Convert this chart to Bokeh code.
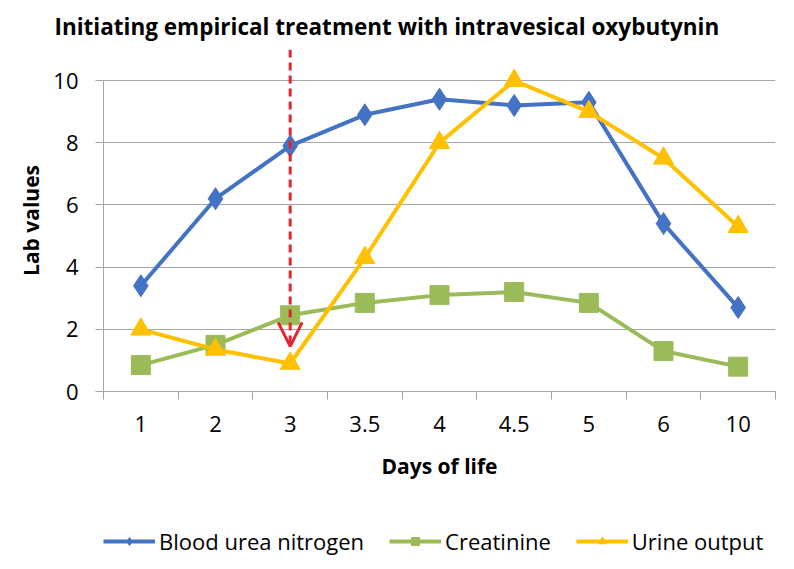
from bokeh.plotting import figure
from bokeh.layouts import column
from bokeh.models import Range1d, FixedTicker, Legend, LegendItem, Arrow, OpenHead
from bokeh.embed import file_html
from bokeh.resources import INLINE

days = ["1", "2", "3", "3.5", "4", "4.5", "5", "6", "10"]
bun = [3.4, 6.2, 7.9, 8.9, 9.4, 9.2, 9.3, 5.4, 2.7]
creatinine = [0.85, 1.5, 2.45, 2.85, 3.1, 3.2, 2.85, 1.3, 0.8]
urine = [2.0, 1.35, 0.9, 4.3, 8.0, 10.0, 9.0, 7.5, 5.3]
y_ticks = [0, 2, 4, 6, 8, 10]
arrow_day = "3"
arrow_top = 11.0
arrow_tip = 1.45

FONT = "Open Sans"
GRID = "#a6a6a6"

xs = list(range(len(days)))

p = figure(width=794, height=510, output_backend="svg", toolbar_location=None,
           x_range=Range1d(-0.5, len(days) - 0.5), y_range=Range1d(0, arrow_top),
           min_border_left=103, min_border_right=19, min_border_top=49, min_border_bottom=119)
p.outline_line_color = None
p.background_fill_color = "white"

p.title.text = "Initiating empirical treatment with intravesical oxybutynin"
p.title.text_font = FONT
p.title.text_font_size = "22.5px"
p.title.text_font_style = "bold"
p.title.align = "left"
p.title.offset = -49
p.title.standoff = 16
p.title.text_color = "black"

# axes
xa = p.xaxis[0]
xa.ticker = FixedTicker(ticks=xs, minor_ticks=[x - 0.5 for x in xs] + [xs[-1] + 0.5])
xa.major_label_overrides = {i: d for i, d in zip(xs, days)}
xa.major_tick_out = 0
xa.major_tick_in = 0
xa.minor_tick_out = 8
xa.minor_tick_in = 0
xa.minor_tick_line_color = GRID
xa.axis_line_color = GRID
xa.major_label_text_font = FONT
xa.major_label_text_font_size = "22px"
xa.major_label_text_color = "black"
xa.major_label_standoff = 16
xa.axis_label = "Days of life"
xa.axis_label_text_font = FONT
xa.axis_label_text_font_size = "21px"
xa.axis_label_text_font_style = "bold"
xa.axis_label_text_color = "black"
xa.axis_label_standoff = 17

ya = p.yaxis[0]
ya.ticker = FixedTicker(ticks=y_ticks)
ya.bounds = (y_ticks[0], y_ticks[-1])
ya.major_tick_out = 8
ya.major_tick_in = 0
ya.minor_tick_line_color = None
ya.major_tick_line_color = GRID
ya.axis_line_color = GRID
ya.major_label_text_font = FONT
ya.major_label_text_font_size = "22px"
ya.major_label_text_color = "black"
ya.major_label_standoff = 17
ya.axis_label = "Lab values"
ya.axis_label_text_font = FONT
ya.axis_label_text_font_size = "21px"
ya.axis_label_text_font_style = "bold"
ya.axis_label_text_color = "black"
ya.axis_label_standoff = 5

p.xgrid.grid_line_color = None
p.ygrid.ticker = FixedTicker(ticks=y_ticks)
p.ygrid.grid_line_color = GRID
p.ygrid.grid_line_width = 1

BLUE = "#4472c4"
GREEN = "#9bbb59"
YELLOW = "#ffc000"
RED = "#e3262d"

series = [("Blood urea nitrogen", bun, BLUE, "diamond", 22),
          ("Creatinine", creatinine, GREEN, "square", 19),
          ("Urine output", urine, YELLOW, "triangle", 20)]
for name, vals, col, marker, size in series:
    p.line(xs, vals, line_color=col, line_width=4)
    p.scatter(xs, vals, marker=marker, size=size, fill_color=col, line_color=col)

ax = days.index(arrow_day)
arrow = Arrow(end=OpenHead(size=24, line_color=RED, line_width=3),
              x_start=ax, y_start=arrow_top, x_end=ax, y_end=arrow_tip,
              line_color=RED, line_width=3, line_dash="8 5")
p.add_layout(arrow)

# legend strip below the chart (its renderers lie outside its view; only the legend shows)
lg = figure(width=794, height=59, output_backend="svg", toolbar_location=None,
            x_axis_location=None, y_axis_location=None,
            x_range=Range1d(-30, -20), y_range=Range1d(-30, -20),
            min_border_left=0, min_border_right=0, min_border_top=0, min_border_bottom=0)
lg.grid.visible = False
lg.outline_line_color = None
items = []
for name, vals, col, marker, size in series:
    l = lg.line(xs, vals, line_color=col, line_width=4)
    s = lg.scatter(xs, vals, marker=marker, size=15, fill_color=col, line_color=col)
    items.append(LegendItem(label=name, renderers=[l, s]))
legend = Legend(items=items, orientation="horizontal", location=(0, 13),
                label_text_font=FONT, label_text_font_size="22px", label_text_color="black",
                glyph_width=52, glyph_height=20, label_standoff=4, spacing=25,
                border_line_color=None, background_fill_alpha=0, margin=0, padding=0)
lg.add_layout(legend)

open("out.html", "w").write(file_html(column(p, lg, spacing=0), INLINE))
